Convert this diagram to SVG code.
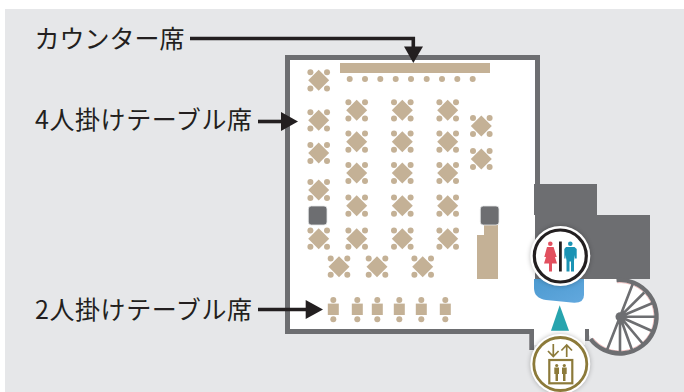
<svg xmlns="http://www.w3.org/2000/svg" width="684" height="392" viewBox="0 0 684 392">
<style>
.lbl{font-family:"Noto Sans CJK JP","Noto Sans",sans-serif;font-size:25px;fill:#231f20}
.t{fill:#c4b196}
.wall{fill:#6d6e71}
.ln{fill:none;stroke:#231f20;stroke-width:3.6}
.hd{fill:#231f20}
.p{fill:#6d6e71;stroke:#e6e7e9;stroke-width:.8}
</style>
<defs>
<g id="t4"><path class="t" d="M0-10.500 10.500 0 0 10.500-10.500 0Z"/><circle class="t" cx="-8.300" cy="-8.100" r="3"/><circle class="t" cx="8.300" cy="-8.100" r="3"/><circle class="t" cx="-8.300" cy="8.100" r="3"/><circle class="t" cx="8.300" cy="8.100" r="3"/></g>
<g id="t2"><rect class="t" x="-5.500" y="-5.700" width="11" height="11.400"/><circle class="t" cx="0" cy="-9.300" r="3"/><circle class="t" cx="0" cy="10" r="3"/></g>
<linearGradient id="bl" x1="0" y1="0" x2="1" y2="1"><stop offset="0" stop-color="#4c9ad0"/><stop offset="1" stop-color="#62a8de"/></linearGradient>
<filter id="sh" x="-30%" y="-30%" width="160%" height="160%"><feGaussianBlur stdDeviation="2.500"/></filter>
</defs>
<rect width="684" height="392" fill="#fff"/>
<rect x="5" y="9" width="679" height="383" fill="#e6e7e9"/>
<g id="floor">
<path fill="#fff" d="M290 60H535V279H620V316.700H589V336H585V345H534V329H290Z"/>
<path class="wall" d="M285 55H540V184H535V60H290V329H534V350H529.300V334H285Z"/>
<rect class="wall" x="534" y="184" width="63" height="31"/>
<rect class="wall" x="535" y="215" width="115" height="64"/>
<path fill="url(#bl)" d="M534 279H584V295Q584 303 574 302.700L546 300Q534 298 534 288Z"/>
<path fill="#27a4ae" d="M559.700 305.300 569 330.700H551Z"/>
</g>
<g id="stairs">
<circle cx="620" cy="316.700" r="36" fill="#fff"/>
<path fill="none" stroke="#e58f8f" stroke-width=".6" d="M617 282.700A34.200 34.200 0 1 1 593 338"/>
<path fill="none" stroke="#6d6e71" stroke-width="4.400" d="M616.500 280A36.800 36.800 0 1 1 590.500 339"/>
<rect class="wall" x="585" y="329" width="4" height="12"/>
<g stroke="#6d6e71" stroke-width="2.600" fill="none">
<path d="M620 316.700 632.700 284M620 316.700 644.300 292.500M620 316.700 652.700 303M620 316.700H655M620 316.700 652 331M620 316.700 643 344M620 316.700 632 350M620 316.700V352M620 316.700 607 350"/>
</g>
<circle cx="620" cy="316.700" r="4.500" fill="#6d6e71"/>
</g>
<g id="counter">
<rect class="t" x="340" y="63" width="150" height="10"/>
<circle class="t" cx="349.700" cy="79" r="3"/><circle class="t" cx="365" cy="79" r="3"/><circle class="t" cx="380.300" cy="79" r="3"/><circle class="t" cx="395.700" cy="79" r="3"/><circle class="t" cx="411" cy="79" r="3"/><circle class="t" cx="426.700" cy="79" r="3"/><circle class="t" cx="442" cy="79" r="3"/><circle class="t" cx="457.300" cy="79" r="3"/><circle class="t" cx="472.700" cy="79" r="3"/>
</g>
<g id="tables4">
<use href="#t4" x="318.700" y="80.300"/><use href="#t4" x="318.700" y="120.300"/><use href="#t4" x="318.700" y="153"/><use href="#t4" x="318.700" y="190"/><use href="#t4" x="318.700" y="238.700"/>
<use href="#t4" x="356.700" y="110.300"/><use href="#t4" x="356.700" y="141.700"/><use href="#t4" x="356.700" y="173"/><use href="#t4" x="356.700" y="205.700"/><use href="#t4" x="356.700" y="238.700"/>
<use href="#t4" x="402.300" y="110.300"/><use href="#t4" x="402.300" y="141.700"/><use href="#t4" x="402.300" y="173"/><use href="#t4" x="402.300" y="205.700"/><use href="#t4" x="402.300" y="238.700"/>
<use href="#t4" x="447.700" y="110.300"/><use href="#t4" x="447.700" y="141.700"/><use href="#t4" x="447.700" y="173"/><use href="#t4" x="447.700" y="205.700"/><use href="#t4" x="447.700" y="238.700"/>
<use href="#t4" x="481.300" y="126"/><use href="#t4" x="481.300" y="159"/>
<use href="#t4" x="339" y="266.700"/><use href="#t4" x="377" y="266.700"/><use href="#t4" x="422.700" y="266.700"/>
</g>
<g id="tables2">
<use href="#t2" x="333.300" y="309.300"/><use href="#t2" x="357.300" y="309.300"/><use href="#t2" x="377.300" y="309.300"/><use href="#t2" x="399.300" y="309.300"/><use href="#t2" x="421.300" y="309.300"/><use href="#t2" x="445.300" y="309.300"/>
</g>
<g id="fixtures">
<path class="t" d="M484 225H498V279H477V235H484Z"/>
<rect class="p" x="308.300" y="206" width="18.700" height="19" rx="3"/>
<rect class="p" x="480.300" y="206" width="18.700" height="19" rx="3"/>
</g>
<g id="restroom">
<circle cx="560.300" cy="256" r="30" fill="#000" opacity=".25" filter="url(#sh)"/>
<circle cx="560.300" cy="256" r="30" fill="#fff"/>
<circle cx="560.300" cy="256" r="26" fill="#fff" stroke="#231f20" stroke-width="3.200"/>
<rect x="559" y="241.500" width="2.800" height="30" fill="#231f20"/>
<g fill="#e2505f"><circle cx="550.300" cy="243.800" r="2.300"/><path d="M547 247H553.600L556.700 257H555L557 263.500H552V271.500H549V263.500H544L546 257H544.300Z"/></g>
<g fill="#1a93b4"><circle cx="570.300" cy="243.800" r="2.300"/><path d="M566 247H574.500L576.700 249V258.500H575V255L574 260.500V271.500H571V261.500H569.500V271.500H566.500V260.500L565.500 255V258.500H564.300V249Z"/></g>
</g>
<g id="elevator">
<circle cx="560.300" cy="364" r="30" fill="#000" opacity=".25" filter="url(#sh)"/>
<circle cx="560.300" cy="364" r="30" fill="#fff"/>
<circle cx="560.300" cy="364" r="26.500" fill="#fff" stroke="#8c7a3a" stroke-width="2.800"/>
<rect x="549.300" y="360" width="23" height="23.300" fill="none" stroke="#8c7a3a" stroke-width="2.200"/>
<path fill="none" stroke="#8c7a3a" stroke-width="1.700" d="M553.300 344V356.500M548 351 553.300 356.500 558.600 351M566.700 357V345M561.400 350.500 566.700 345 572 350.500"/>
<g fill="#8c7a3a"><circle cx="556.700" cy="365.500" r="1.600"/><path d="M554.300 367.500H559V374H558V381H555.500V374H554.300Z"/><circle cx="564.300" cy="365.500" r="1.600"/><path d="M562 367.500H566.700V374H565.500V381H563V374H562Z"/></g>
</g>
<g id="connectors">
<path class="ln" d="M190 38.500H413.300V50"/><path class="hd" d="M404 46.500H423L413.300 63Z"/>
<path class="ln" d="M258 121.500H282"/><path class="hd" d="M281 112 298 121.500 281 131Z"/>
<path class="ln" d="M258 309.500H308"/><path class="hd" d="M305.700 300 323 309.500 305.700 319Z"/>
</g>
<g id="labels">
<text class="lbl" x="34.500" y="48" textLength="150" lengthAdjust="spacing">カウンター席</text>
<text class="lbl" x="35" y="128.500" textLength="217" lengthAdjust="spacing">4人掛けテーブル席</text>
<text class="lbl" x="35" y="318.500" textLength="217" lengthAdjust="spacing">2人掛けテーブル席</text>
</g>
</svg>
